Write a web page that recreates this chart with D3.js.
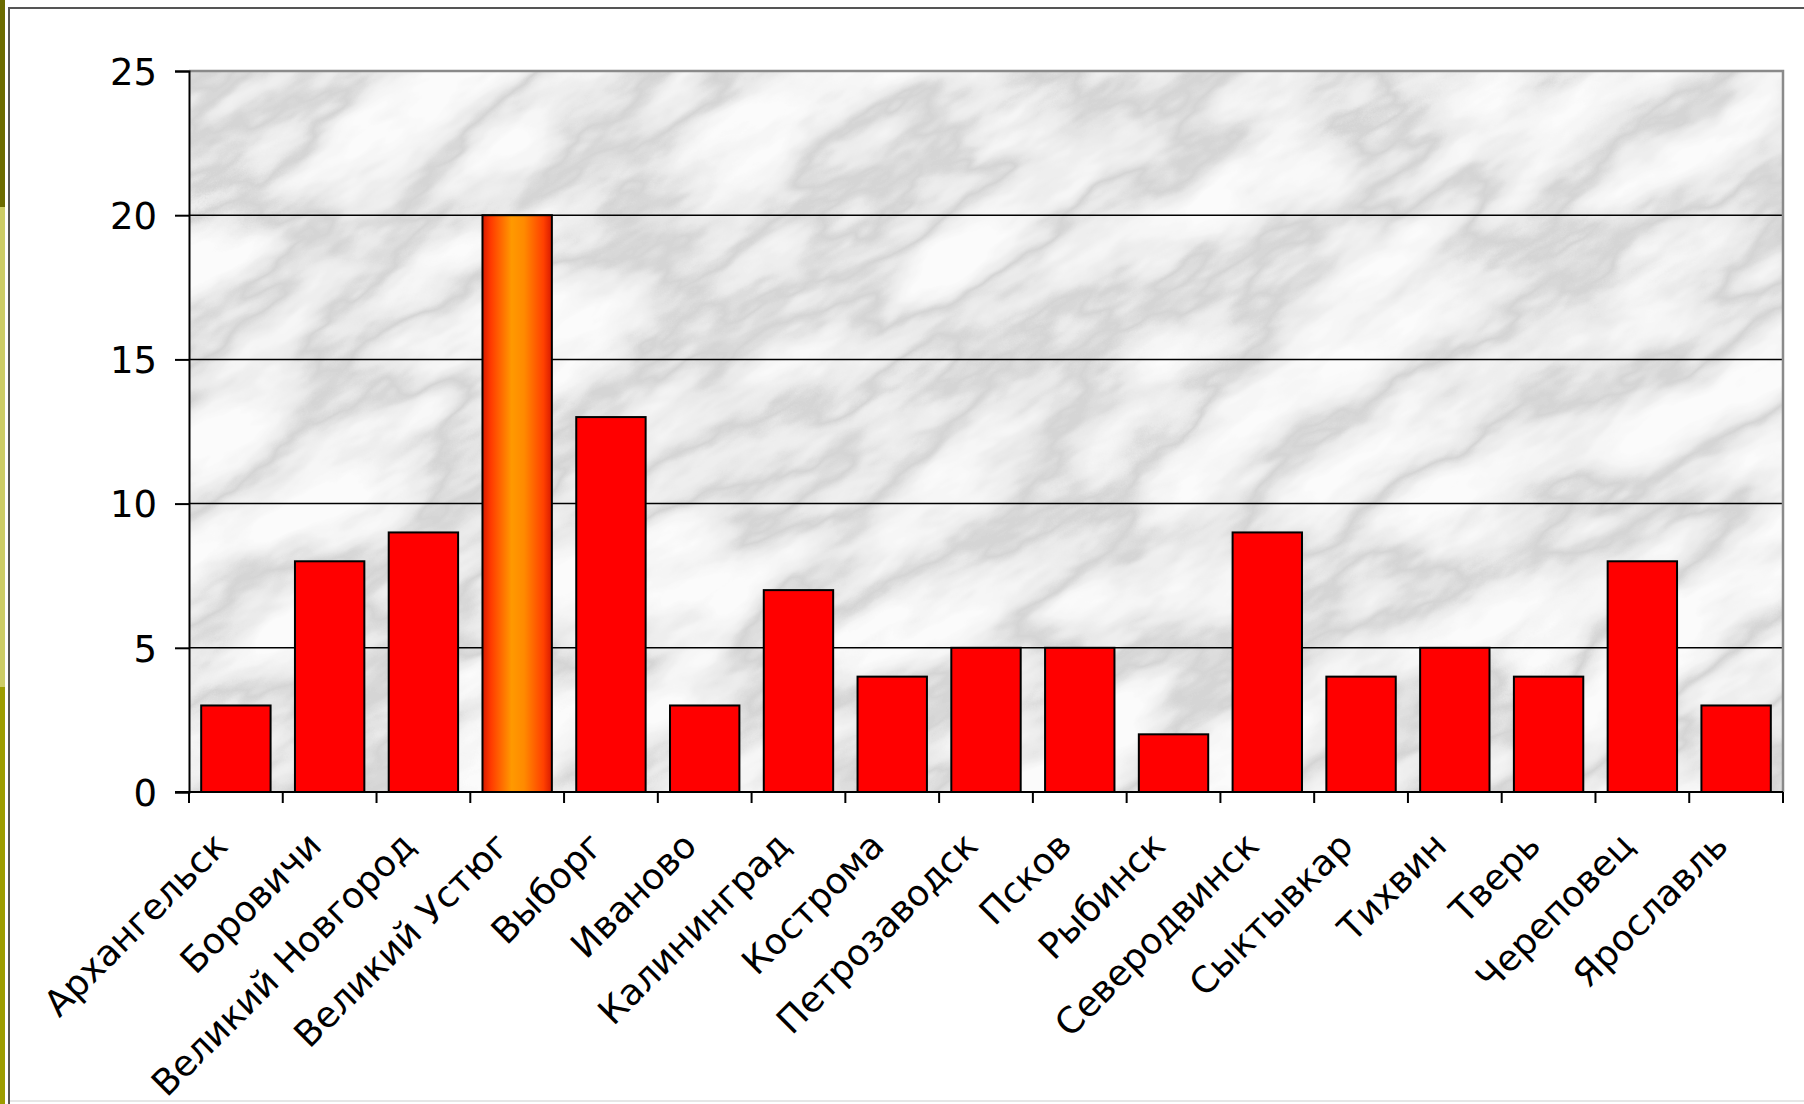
<!DOCTYPE html>
<html>
<head>
<meta charset="utf-8">
<script src="https://cdn.jsdelivr.net/npm/d3@7"></script>
<style>
  html, body { margin: 0; padding: 0; background: #fff; }
  svg { display: block; }
  text { font-family: "DejaVu Sans", Verdana, sans-serif; fill: #000; }
</style>
</head>
<body>
<svg id="chart" width="1804" height="1104"></svg>
<script>
// data
const cities = ["Архангельск", "Боровичи", "Великий Новгород", "Великий Устюг", "Выборг", "Иваново",
  "Калининград", "Кострома", "Петрозаводск", "Псков", "Рыбинск", "Северодвинск", "Сыктывкар",
  "Тихвин", "Тверь", "Череповец", "Ярославль"];
const counts = [3, 8, 9, 20, 13, 3, 7, 4, 5, 5, 2, 9, 4, 5, 4, 8, 3];
const highlighted = "Великий Устюг";
const yTicks = [0, 5, 10, 15, 20, 25];

const W = 1804, H = 1104;
const m = {left: 189, top: 71, right: 21, bottom: 312};
const svg = d3.select("#chart");

// page decoration: olive strip + frame
const strip = [{y0: 0, y1: 207, c: "#6b6b00"}, {y0: 207, y1: 687, c: "#cccc66"}, {y0: 687, y1: H, c: "#9c9c00"}];
svg.selectAll("rect.strip").data(strip).join("rect")
  .attr("x", 0).attr("width", 5)
  .attr("y", d => d.y0).attr("height", d => d.y1 - d.y0)
  .attr("fill", d => d.c);
svg.append("line").attr("x1", 9).attr("x2", 9).attr("y1", 8).attr("y2", H).attr("stroke", "#555").attr("stroke-width", 2);
svg.append("line").attr("x1", 8).attr("x2", W).attr("y1", 8).attr("y2", 8).attr("stroke", "#555").attr("stroke-width", 2);
svg.append("line").attr("x1", 10).attr("x2", W).attr("y1", 1101).attr("y2", 1101).attr("stroke", "#e6e6e6").attr("stroke-width", 2);

const defs = svg.append("defs");
// marble-ish background: white stone with grey veins along noise contours
const veins = d3.range(21).map(i => {
  const d = Math.abs(i / 20 - 0.5);
  return d < 0.03 ? 0.66 : d < 0.08 ? 0.82 : d < 0.13 ? 0.91 : 0.97;
});
const f = defs.append("filter").attr("id", "marble").attr("x", 0).attr("y", 0).attr("width", 1).attr("height", 1);
f.append("feTurbulence").attr("type", "fractalNoise").attr("baseFrequency", "0.004 0.01")
  .attr("numOctaves", 5).attr("seed", 11).attr("result", "noise");
f.append("feColorMatrix").attr("type", "matrix")
  .attr("values", "0.33 0.33 0.33 0 0  0.33 0.33 0.33 0 0  0.33 0.33 0.33 0 0  0 0 0 0 1");
const ct = f.append("feComponentTransfer");
["feFuncR", "feFuncG", "feFuncB"].forEach(k =>
  ct.append(k).attr("type", "table").attr("tableValues", veins.join(" ")));

const grad = defs.append("linearGradient").attr("id", "hot").attr("x1", 0).attr("x2", 1).attr("y1", 0).attr("y2", 0);
[[0, "#d81a00"], [0.12, "#ff3a00"], [0.42, "#ff9900"], [0.6, "#ff8a00"], [0.88, "#ff4000"], [1, "#d81a00"]]
  .forEach(([o, c]) => grad.append("stop").attr("offset", o).attr("stop-color", c));

const x = d3.scaleBand().domain(cities)
  .range([m.left, W - m.right]).paddingInner(0.26).paddingOuter(0.13);
const y = d3.scaleLinear().domain([0, 25]).range([H - m.bottom, m.top]);

// clip the marble to the plot area
defs.append("clipPath").attr("id", "plotclip").append("rect")
  .attr("x", m.left).attr("y", m.top).attr("width", W - m.right - m.left).attr("height", y(0) - m.top);
const g = svg.append("g").attr("clip-path", "url(#plotclip)");
g.append("g").attr("transform", `rotate(-30 ${(m.left + W - m.right) / 2} ${(m.top + y(0)) / 2})`)
  .append("rect")
  .attr("x", m.left - 500).attr("y", m.top - 500)
  .attr("width", W - m.right - m.left + 1000).attr("height", y(0) - m.top + 1000)
  .attr("fill", "#fff").attr("filter", "url(#marble)");

// gridlines
svg.append("g").selectAll("line").data(yTicks.filter(v => v > 0 && v < 25)).join("line")
  .attr("x1", m.left).attr("x2", W - m.right)
  .attr("y1", d => y(d)).attr("y2", d => y(d))
  .attr("stroke", "#000").attr("stroke-width", 1.5);
// plot border top/right
svg.append("path")
  .attr("d", `M${m.left},${y(25)}H${W - m.right}V${y(0)}`)
  .attr("fill", "none").attr("stroke", "#8a8a8a").attr("stroke-width", 2.5);

// bars
svg.append("g").selectAll("rect").data(cities).join("rect")
  .attr("x", d => x(d)).attr("width", x.bandwidth())
  .attr("y", (d, i) => y(counts[i])).attr("height", (d, i) => y(0) - y(counts[i]))
  .attr("fill", d => d === highlighted ? "url(#hot)" : "#ff0000")
  .attr("stroke", "#000").attr("stroke-width", 2);

// y axis
const yAxis = svg.append("g").attr("transform", `translate(${m.left},0)`)
  .call(d3.axisLeft(y).tickValues(yTicks).tickSize(14).tickPadding(18));
yAxis.select(".domain").attr("stroke", "#000").attr("stroke-width", 2);
yAxis.selectAll(".tick line").attr("stroke", "#000").attr("stroke-width", 2);
yAxis.selectAll("text").style("font-size", "37px").attr("dy", "0.36em");

// x axis: ticks at category boundaries
const step = x.step();
const bounds = cities.map(c => x(c) - step * x.paddingInner() / 2).concat([W - m.right]);
const xg = svg.append("g");
xg.append("line").attr("x1", m.left - 14).attr("x2", W - m.right).attr("y1", y(0)).attr("y2", y(0))
  .attr("stroke", "#000").attr("stroke-width", 2);
xg.selectAll("line.tk").data(bounds).join("line").attr("class", "tk")
  .attr("x1", d => d).attr("x2", d => d).attr("y1", y(0)).attr("y2", y(0) + 11)
  .attr("stroke", "#000").attr("stroke-width", 2);
xg.selectAll("text").data(cities).join("text")
  .attr("transform", d => `translate(${x(d) + x.bandwidth() / 2 - 24},${y(0) + 38}) rotate(-45)`)
  .attr("text-anchor", "end").attr("dy", "0.7em")
  .style("font-size", "36px")
  .text(d => d);
</script>
</body>
</html>
